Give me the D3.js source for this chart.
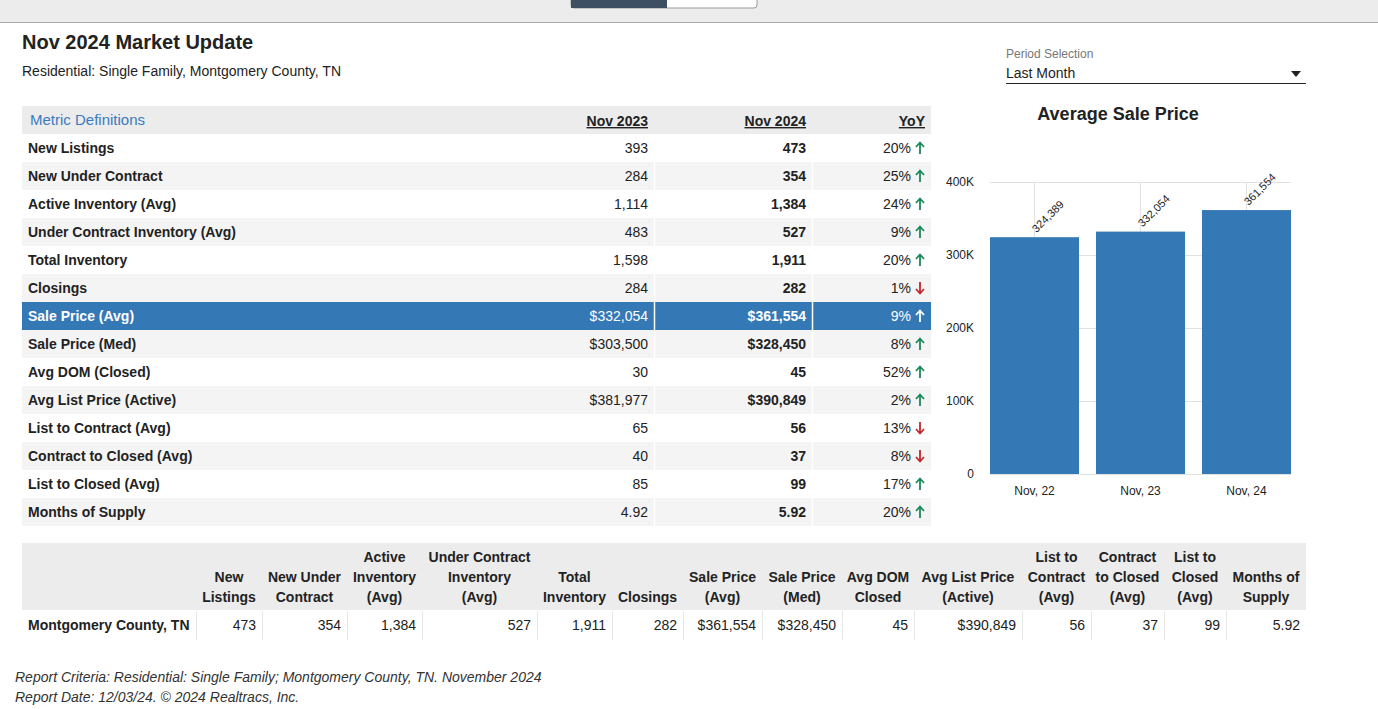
<!DOCTYPE html>
<html><head><meta charset="utf-8">
<script src="https://cdn.jsdelivr.net/npm/d3@7"></script>
<style>body{margin:0;background:#fff;font-family:Arial,"Liberation Sans",sans-serif;}</style>
</head><body><svg></svg>
<script>
// Data
let metrics = ['New Listings','New Under Contract','Active Inventory (Avg)','Under Contract Inventory (Avg)','Total Inventory','Closings','Sale Price (Avg)','Sale Price (Med)','Avg DOM (Closed)','Avg List Price (Active)','List to Contract (Avg)','Contract to Closed (Avg)','List to Closed (Avg)','Months of Supply'];
let nov2023 = ['393','284','1,114','483','1,598','284','$332,054','$303,500','30','$381,977','65','40','85','4.92'];
let nov2024 = ['473','354','1,384','527','1,911','282','$361,554','$328,450','45','$390,849','56','37','99','5.92'];
let yoy = ['20%','25%','24%','9%','20%','1%','9%','8%','52%','2%','13%','8%','17%','20%'];
let yoyUp = [true,true,true,true,true,false,true,true,true,true,false,false,true,true];
let barYears = ['Nov, 22','Nov, 23','Nov, 24'];
let barValues = [324389, 332054, 361554];
let yTicks = [0, 100000, 200000, 300000, 400000];
let summaryHeaders = [['New','Listings'],['New Under','Contract'],['Active','Inventory','(Avg)'],['Under Contract','Inventory','(Avg)'],['Total','Inventory'],['Closings'],['Sale Price','(Avg)'],['Sale Price','(Med)'],['Avg DOM','Closed'],['Avg List Price','(Active)'],['List to','Contract','(Avg)'],['Contract','to Closed','(Avg)'],['List to','Closed','(Avg)'],['Months of','Supply']];
let summaryValues = ['473','354','1,384','527','1,911','282','$361,554','$328,450','45','$390,849','56','37','99','5.92'];

let width = 1378, height = 709;
let svg = d3.select('svg').attr('width', width).attr('height', height);

// Top bar
svg.append('rect').attr('x',0).attr('y',0).attr('width',width).attr('height',22).attr('fill','#ececec');
svg.append('line').attr('x1',0).attr('x2',width).attr('y1',22.5).attr('y2',22.5).attr('stroke','#aaa');
svg.append('rect').attr('x',571).attr('y',-4).attr('width',186).attr('height',12).attr('rx',3).attr('fill','#fff').attr('stroke','#999');
svg.append('rect').attr('x',571).attr('y',-4).attr('width',96).attr('height',12).attr('fill','#3f4f63');

// Title
svg.append('text').attr('x',22).attr('y',49).attr('font-size',20).attr('font-weight','bold').attr('fill','#222').text('Nov 2024 Market Update');
svg.append('text').attr('x',22).attr('y',76).attr('font-size',14).attr('fill','#222').text('Residential: Single Family, Montgomery County, TN');

// Main table
let tx = 22, tw = 909, rowH = 28, tableTop = 106;
svg.append('rect').attr('x',tx).attr('y',tableTop).attr('width',tw).attr('height',rowH).attr('fill','#ececec');
svg.append('text').attr('x',30).attr('y',tableTop+19).attr('font-size',15).attr('fill','#3a7bbf').text('Metric Definitions');
[['Nov 2023',648],['Nov 2024',806],['YoY',925]].forEach(h => {
    svg.append('text').attr('x',h[1]).attr('y',tableTop+20).attr('text-anchor','end').attr('font-size',14)
        .attr('font-weight','bold').attr('text-decoration','underline').attr('fill','#222').text(h[0]);
});
let rows = svg.append('g').selectAll('g').data(metrics).enter().append('g')
    .attr('transform', (d, i) => 'translate(0,' + (tableTop + rowH * (i + 1)) + ')');
rows.append('rect').attr('x',tx).attr('width',tw).attr('height',rowH)
    .attr('fill', (d, i) => i === 6 ? '#3478b6' : (i % 2 ? '#f4f4f4' : '#fff'));
rows.append('line').attr('x1',654.5).attr('x2',654.5).attr('y2',rowH).attr('stroke','#fff').attr('stroke-width',1.5);
rows.append('line').attr('x1',812.5).attr('x2',812.5).attr('y2',rowH).attr('stroke','#fff').attr('stroke-width',1.5);
let tc = (i) => i === 6 ? '#fff' : '#222';
rows.append('text').attr('x',28).attr('y',19).attr('font-size',14).attr('font-weight','bold').attr('fill',(d,i)=>tc(i)).text(d => d);
rows.append('text').attr('x',648).attr('y',19).attr('font-size',14).attr('text-anchor','end').attr('fill',(d,i)=>tc(i)).text((d,i)=>nov2023[i]);
rows.append('text').attr('x',806).attr('y',19).attr('font-size',14).attr('text-anchor','end').attr('font-weight','bold').attr('fill',(d,i)=>tc(i)).text((d,i)=>nov2024[i]);
rows.append('text').attr('x',911).attr('y',19).attr('font-size',14).attr('text-anchor','end').attr('fill',(d,i)=>tc(i)).text((d,i)=>yoy[i]);
// arrows drawn as paths
rows.append('path')
    .attr('d', (d, i) => yoyUp[i] ? 'M920,9 L920,20 M916,13 L920,8.5 L924,13' : 'M920,8 L920,19 M916,15 L920,19.5 L924,15')
    .attr('fill','none').attr('stroke-width',1.8)
    .attr('stroke',(d,i)=> i === 6 ? '#fff' : (yoyUp[i] ? '#1a8a5a' : '#c0282d'));

// Period selection
svg.append('text').attr('x',1006).attr('y',58).attr('font-size',12).attr('fill','#777').text('Period Selection');
svg.append('text').attr('x',1006).attr('y',78).attr('font-size',14).attr('fill','#222').text('Last Month');
svg.append('line').attr('x1',1006).attr('x2',1306).attr('y1',83.5).attr('y2',83.5).attr('stroke','#222');
svg.append('path').attr('d','M1291,71 L1301,71 L1296,77 Z').attr('fill','#222');

// Bar chart
svg.append('text').attr('x',1118).attr('y',120).attr('text-anchor','middle').attr('font-size',18).attr('font-weight','bold').attr('fill','#222').text('Average Sale Price');
let x = d3.scaleBand().domain(barYears).range([990, 1291]).paddingInner(0.16).paddingOuter(0);
let y = d3.scaleLinear().domain([0, 400000]).range([474, 182]);
let chart = svg.append('g');
chart.selectAll('.hg').data(yTicks).enter().append('line').attr('x1',990).attr('x2',1291)
    .attr('y1',d=>y(d)+0.5).attr('y2',d=>y(d)+0.5).attr('stroke','#e2e2e2');
chart.selectAll('.vg').data(barYears).enter().append('line').attr('x1',d=>x(d)+x.bandwidth()/2).attr('x2',d=>x(d)+x.bandwidth()/2)
    .attr('y1',182).attr('y2',474).attr('stroke','#e2e2e2');
let yAxis = chart.append('g').attr('transform','translate(977,0)')
    .call(d3.axisLeft(y).tickValues(yTicks).tickSize(0).tickFormat(d => d === 0 ? '0' : (d / 1000) + 'K'));
yAxis.select('.domain').remove();
yAxis.selectAll('text').attr('font-size',12).attr('fill','#222').attr('font-family','Arial,sans-serif');
chart.selectAll('rect.bar').data(barValues).enter().append('rect').attr('class','bar')
    .attr('x',(d,i)=>x(barYears[i])).attr('width',x.bandwidth()).attr('y',d=>y(d)).attr('height',d=>y(0)-y(d)).attr('fill','#3478b6');
chart.selectAll('text.lbl').data(barValues).enter().append('text').attr('class','lbl')
    .attr('transform',(d,i)=>'translate(' + (x(barYears[i]) + x.bandwidth()/2 + 2) + ',' + (y(d) - 4) + ') rotate(-45)')
    .attr('font-size',11).attr('fill','#222').text(d => d3.format(',')(d));
let xAxis = chart.append('g').attr('transform','translate(0,474)').call(d3.axisBottom(x).tickSize(0).tickPadding(12));
xAxis.select('.domain').remove();
xAxis.selectAll('text').attr('font-size',12).attr('fill','#222').attr('font-family','Arial,sans-serif');

// Summary table
let colEdges = [22,196,262,347,422,537,612,683,762,842,914,1022,1091,1164,1226,1306];
svg.append('rect').attr('x',22).attr('y',543).attr('width',1284).attr('height',67).attr('fill','#ececec');
summaryHeaders.forEach((lines, i) => {
    let cx = (colEdges[i+1] + colEdges[i+2]) / 2;
    lines.forEach((t, j) => {
        svg.append('text').attr('x',cx).attr('y',602 - (lines.length - 1 - j) * 20).attr('text-anchor','middle')
            .attr('font-size',14).attr('font-weight','bold').attr('fill','#222').text(t);
    });
});
svg.append('text').attr('x',28).attr('y',630).attr('font-size',14).attr('font-weight','bold').attr('fill','#222').text('Montgomery County, TN');
summaryValues.forEach((v, i) => {
    svg.append('line').attr('x1',colEdges[i+1]+0.5).attr('x2',colEdges[i+1]+0.5).attr('y1',611).attr('y2',640).attr('stroke','#e6e6e6');
    svg.append('text').attr('x',colEdges[i+2]-6).attr('y',630).attr('text-anchor','end').attr('font-size',14).attr('fill','#222').text(v);
});

// Footer
svg.append('text').attr('x',15).attr('y',682).attr('font-size',14).attr('font-style','italic').attr('fill','#333').text('Report Criteria: Residential: Single Family; Montgomery County, TN. November 2024');
svg.append('text').attr('x',15).attr('y',702).attr('font-size',14).attr('font-style','italic').attr('fill','#333').text('Report Date: 12/03/24. \u00a9 2024 Realtracs, Inc.');
</script></body></html>
